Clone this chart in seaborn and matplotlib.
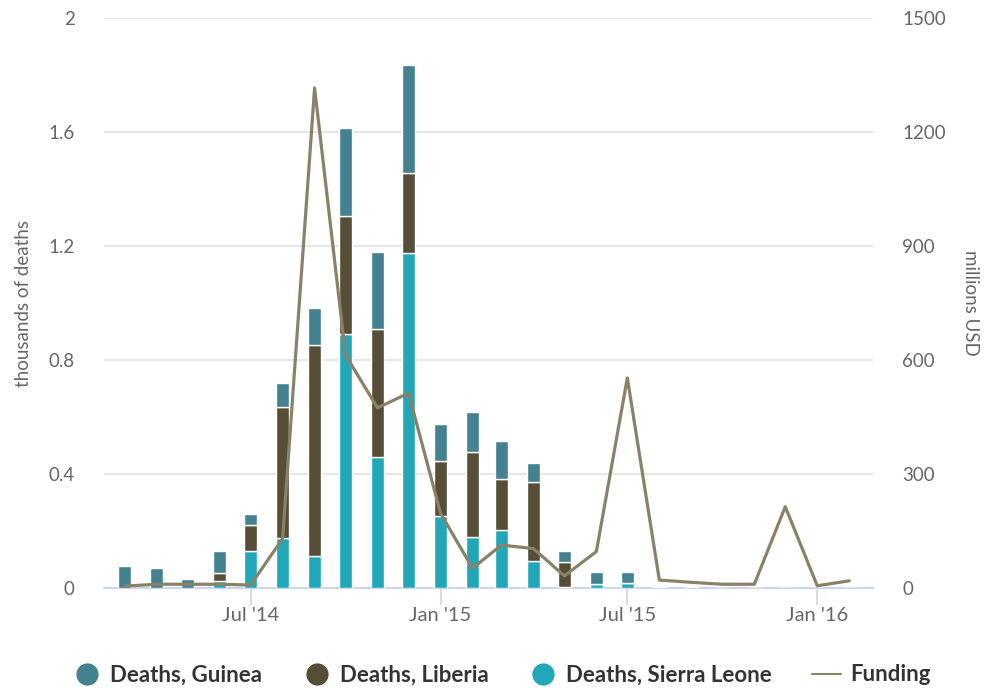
import pandas as pd
import seaborn as sns
import matplotlib.pyplot as plt
from matplotlib.lines import Line2D

# monthly data, Mar 2014 .. Feb 2016
months = pd.date_range("2014-03-01", periods=24, freq="MS")
guinea = [0.077, 0.071, 0.032, 0.078, 0.04, 0.085, 0.13, 0.31, 0.27, 0.379, 0.13, 0.14,
          0.133, 0.065, 0.04, 0.044, 0.038, 0.003, 0.002, 0, 0, 0, 0, 0]
liberia = [0, 0, 0, 0.027, 0.09, 0.46, 0.74, 0.415, 0.45, 0.283, 0.19, 0.296,
           0.18, 0.277, 0.085, 0, 0, 0, 0, 0, 0, 0, 0, 0]
sierra_leone = [0, 0, 0, 0.025, 0.13, 0.174, 0.112, 0.89, 0.46, 1.174, 0.254, 0.18,
                0.204, 0.096, 0.005, 0.013, 0.019, 0.003, 0.002, 0.001, 0, 0, 0, 0]
funding = [5, 10, 10, 10, 8, 130, 1316, 613, 474, 513, 197, 52,
           113, 104, 32, 96, 553, 21, 15, 10, 10, 214, 6, 19]

tick_dates = ["2014-07-01", "2015-01-01", "2015-07-01", "2016-01-01"]
tick_labels = ["Jul '14", "Jan '15", "Jul '15", "Jan '16"]

c_guinea = "#43828e"
c_liberia = "#564e36"
c_sl = "#20a8b8"
c_fund = "#8a8169"
txt = "#666666"
axis_c = "#ccd6eb"

sns.set_theme(style="white")
plt.rcParams['font.family'] = ['Lato', 'DejaVu Sans']

df = pd.DataFrame({"month": months, "guinea": guinea, "liberia": liberia,
                   "sl": sierra_leone, "funding": funding})

fig = plt.figure(figsize=(9.87, 6.88), dpi=100)
ax = fig.add_axes([0.1054, 0.1453, 0.7791, 0.8285])
ax2 = ax.twinx()

w = 12.8
bot = [0.0] * len(df)
for col, c in [("sl", c_sl), ("liberia", c_liberia), ("guinea", c_guinea)]:
    ax.bar(df["month"], df[col], width=w, bottom=bot, color=c,
           edgecolor="white", linewidth=1.0, zorder=3)
    bot = [b + v for b, v in zip(bot, df[col])]

sns.lineplot(data=df, x="month", y="funding", ax=ax2, color=c_fund,
             linewidth=2.3, zorder=4)

ax.set_xlim(pd.Timestamp("2014-02-09"), pd.Timestamp("2016-02-24"))
ax.set_ylim(0, 2)
ax.set_yticks([0, 0.4, 0.8, 1.2, 1.6, 2])
ax.set_yticklabels(["0", "0.4", "0.8", "1.2", "1.6", "2"])
ax2.set_ylim(0, 1500)
ax2.set_yticks([0, 300, 600, 900, 1200, 1500])

ax.set_xticks(pd.to_datetime(tick_dates))
ax.set_xticklabels(tick_labels)
ax.yaxis.grid(True, color="#e6e6e6", linewidth=1.5, zorder=0)
ax.set_axisbelow(True)

for a in (ax, ax2):
    for s in a.spines.values():
        s.set_visible(False)
ax.spines["bottom"].set_visible(True)
ax.spines["bottom"].set_color(axis_c)
ax.spines["bottom"].set_linewidth(1.5)

ax.tick_params(axis="x", length=12, width=1.2, color=axis_c, pad=2,
               labelsize=14.5, labelcolor=txt, bottom=True)
ax.tick_params(axis="y", length=0, pad=21, labelsize=13.5, labelcolor=txt)
ax2.tick_params(axis="y", length=0, pad=21, labelsize=13.5, labelcolor=txt)

ax.set_xlabel("")
ax2.set_xlabel("")
ax.set_ylabel("thousands of deaths", fontsize=13.5, color=txt, labelpad=12)
ax2.set_ylabel("millions USD", fontsize=13.5, color=txt, rotation=-90, labelpad=24)

handles = [
    Line2D([], [], marker="o", linestyle="none", markersize=15, color=c_guinea),
    Line2D([], [], marker="o", linestyle="none", markersize=15, color=c_liberia),
    Line2D([], [], marker="o", linestyle="none", markersize=15, color=c_sl),
    Line2D([], [], color=c_fund, linewidth=1.5),
]
labels = ["Deaths, Guinea", "Deaths, Liberia", "Deaths, Sierra Leone", "Funding"]
fig.legend(handles, labels, loc="center", bbox_to_anchor=(0.508, 0.019), ncol=4,
           frameon=False, prop={"size": 16, "weight": "bold"}, labelcolor="#333333",
           handlelength=1.3, handletextpad=0.4, columnspacing=1.8)

plt.savefig("out.png", dpi=100)
plt.close()
